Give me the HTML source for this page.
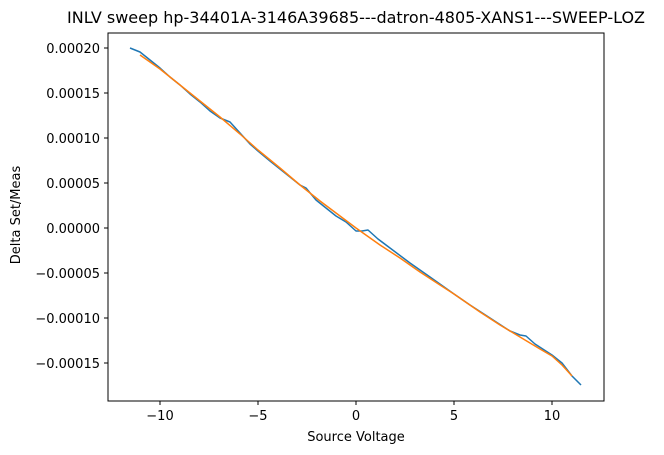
<!DOCTYPE html>
<html><head><meta charset="utf-8"><style>
body{margin:0;background:#fff}
svg{display:block;font-family:"DejaVu Sans","Liberation Sans",sans-serif}
</style></head><body>
<svg width="664" height="455" viewBox="0 0 664 455" xmlns="http://www.w3.org/2000/svg">
<rect width="664" height="455" fill="#fff"/>
<text x="356" y="23" font-size="16" text-anchor="middle" fill="#000">INLV sweep hp-34401A-3146A39685---datron-4805-XANS1---SWEEP-LOZ</text>
<g stroke="#000" stroke-width="1">
<line x1="160" y1="401" x2="160" y2="405"/><line x1="258" y1="401" x2="258" y2="405"/>
<line x1="356" y1="401" x2="356" y2="405"/><line x1="454" y1="401" x2="454" y2="405"/>
<line x1="552" y1="401" x2="552" y2="405"/>
<line x1="104" y1="48" x2="108" y2="48"/><line x1="104" y1="93" x2="108" y2="93"/>
<line x1="104" y1="138" x2="108" y2="138"/><line x1="104" y1="183" x2="108" y2="183"/>
<line x1="104" y1="228" x2="108" y2="228"/><line x1="104" y1="273" x2="108" y2="273"/>
<line x1="104" y1="318" x2="108" y2="318"/><line x1="104" y1="363" x2="108" y2="363"/>
</g>
<g font-size="13" fill="#000" text-anchor="middle">
<text x="160" y="420">−10</text><text x="258" y="420">−5</text><text x="356" y="420">0</text>
<text x="454" y="420">5</text><text x="552" y="420">10</text>
</g>
<g font-size="13" fill="#000" text-anchor="end">
<text x="100" y="53">0.00020</text><text x="100" y="98">0.00015</text>
<text x="100" y="143">0.00010</text><text x="100" y="188">0.00005</text>
<text x="100" y="233">0.00000</text><text x="100" y="278">−0.00005</text>
<text x="100" y="323">−0.00010</text><text x="100" y="368">−0.00015</text>
</g>
<text x="356" y="441" font-size="13" text-anchor="middle">Source Voltage</text>
<text transform="translate(20,215) rotate(-90)" font-size="13" text-anchor="middle">Delta Set/Meas</text>
<polyline fill="none" stroke="#1f77b4" stroke-width="1.5" stroke-linejoin="round" points="130,48 140,52 150,60 160,68 170,77 180,85 190,94 200,102 210,111 220,118 230,122 240,133 250,144 258,151 270,161 280,169 290,177 300,185 306,188 316,200 326,208 336,216 346,222 356,231 362,231 368,230 378,239 390,248 410,263 430,277 454,294 470,305 490,318 510,331 520,335 526,336 535,344 552,355 562,363 572,376 581,385"/>
<polyline fill="none" stroke="#ff7f0e" stroke-width="1.5" stroke-linejoin="round" points="140,55 160,69 180,85 200,101 220,117 240,134 258,150 280,168 300,185 320,201 340,216 356,228 380,245 400,258 420,272 440,285 454,294 480,312 500,325 520,337 540,349 552,356 562,365 572,376"/>
<rect x="108" y="33" width="496" height="368" fill="none" stroke="#000" stroke-width="1"/>
</svg>
</body></html>
